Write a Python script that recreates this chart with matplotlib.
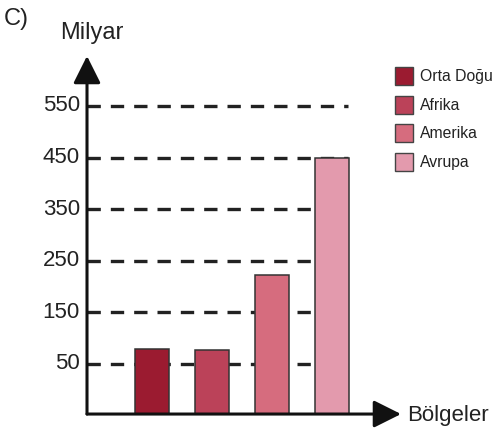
import numpy as np
import matplotlib.pyplot as plt
from matplotlib.patches import Rectangle

plt.rcParams['font.family'] = ['Liberation Sans', 'DejaVu Sans']

regions = ['Orta Doğu', 'Afrika', 'Amerika', 'Avrupa']
values = [80, 78, 222, 450]
colors = ['#9b1b30', '#bb4259', '#d66c7e', '#e39aad']
ticks = [50, 150, 250, 350, 450, 550]

W, H = 497, 437
base = -47          # value where the x axis sits
fig = plt.figure(figsize=(W / 100, H / 100), dpi=100)
ax = fig.add_axes([0, 0, 1, 1])
ax.set_xlim(-2.533, 5.75)
ax.set_ylim(-91.5, 755.4)
ax.axis('off')

x = np.arange(len(regions))
x_axis = -1.083

# dashed grid lines
for t in ticks:
    ax.plot([x_axis, 3.27], [t, t], color='#222222', lw=2.4,
            dashes=(4, 3), zorder=1)
    ax.text(x_axis - 0.12, t, str(t), ha='right', va='center', fontsize=16,
            color='#222222')

ax.bar(x, np.array(values) - base, bottom=base, width=0.56, color=colors,
       edgecolor='#333333', linewidth=1.1, zorder=2)

# axes with arrows
arrow = dict(arrowstyle='-|>,head_length=0.6,head_width=0.3', mutation_scale=28,
             lw=2.2, color='#111111', shrinkA=0, shrinkB=0)
ax.annotate('', xy=(x_axis, 50 + 308 / 0.516), xytext=(x_axis, base),
            arrowprops=arrow, zorder=3)
ax.annotate('', xy=(4.15, base), xytext=(x_axis, base),
            arrowprops=arrow, zorder=3)

fig.text(4 / W, 1 - 19 / H, 'C)', fontsize=17, va='center', ha='left', color='#222222')
fig.text(92 / W, 1 - 33 / H, 'Milyar', fontsize=17, va='center', ha='center',
         color='#222222')
fig.text(407 / W, 1 - 415 / H, 'Bölgeler', fontsize=16, va='center', ha='left',
         color='#222222')

# legend
leg_y = [76, 105, 133, 162]
for name, c, yy in zip(regions, colors, leg_y):
    fig.patches.append(Rectangle((395 / W, 1 - (yy + 9) / H), 18 / W, 18 / H,
                                 transform=fig.transFigure, facecolor=c,
                                 edgecolor='#444444', lw=1))
    fig.text(420 / W, 1 - yy / H, name, fontsize=11.3, va='center', ha='left',
             color='#222222')

fig.savefig('out.png', dpi=100)
